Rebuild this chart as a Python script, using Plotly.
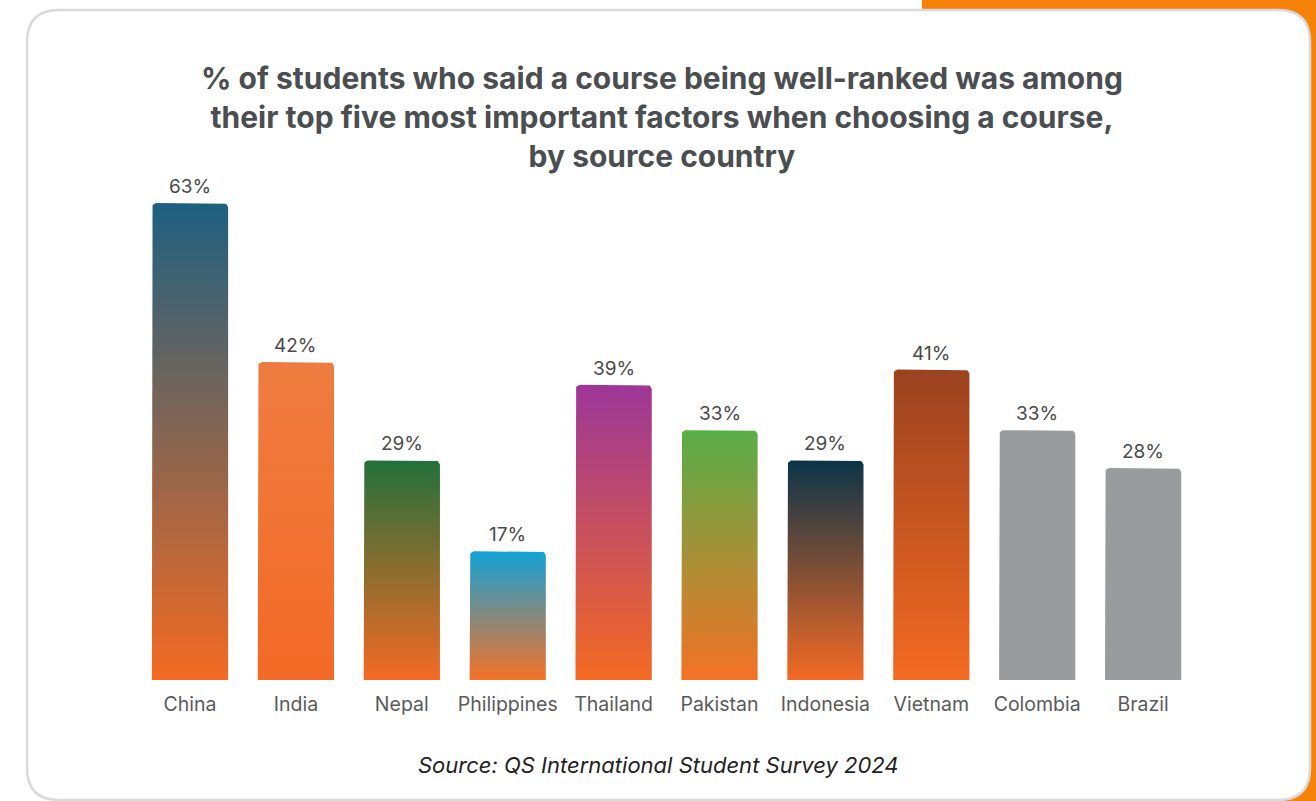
import numpy as np
import plotly.graph_objects as go

# Survey results: share of students ranking "course is well-ranked" in their top five factors
countries = ["China", "India", "Nepal", "Philippines", "Thailand",
             "Pakistan", "Indonesia", "Vietnam", "Colombia", "Brazil"]
shares = [63, 42, 29, 17, 39, 33, 29, 41, 33, 28]

# Gradient colours for each bar (top -> bottom)
top_colors = ["#1d6080", "#ee7c40", "#22703a", "#12a2d6", "#9c3698",
              "#58ae48", "#0a3448", "#9a4220", "#999b9c", "#999b9c"]
bottom_colors = ["#f46a22", "#f46a26", "#f46a24", "#f47226", "#f46a22",
                 "#f47226", "#f46a24", "#f46a22", "#999b9c", "#999b9c"]

W, H = 1316, 801
BASE_PX = 680          # pixel row of the bar baseline
PX_PER_UNIT = 7.571    # vertical pixels per percentage point
SLOT_PX = 105.9        # horizontal spacing between bar centres
FIRST_PX = 190         # pixel column of the first bar centre
Y_MAX = 65

x_left = FIRST_PX - SLOT_PX / 2
x_right = x_left + SLOT_PX * len(countries)
y_top_px = BASE_PX - Y_MAX * PX_PER_UNIT


def px_x(p):
    return p / W


def px_y(p):
    return 1 - p / H


half_w = 0.36
corner_px = 5
rx = corner_px / SLOT_PX
ry = corner_px / PX_PER_UNIT


def bar_outline(i, v):
    xs, ys = [i - half_w], [0]
    t = np.linspace(np.pi, np.pi / 2, 7)
    xs += list(i - half_w + rx + rx * np.cos(t))
    ys += list(v - ry + ry * np.sin(t))
    t = np.linspace(np.pi / 2, 0, 7)
    xs += list(i + half_w - rx + rx * np.cos(t))
    ys += list(v - ry + ry * np.sin(t))
    xs += [i + half_w, i - half_w]
    ys += [0, 0]
    return xs, ys


fig = go.Figure()

for i, (name, v) in enumerate(zip(countries, shares)):
    xs, ys = bar_outline(i, v)
    fig.add_trace(go.Scatter(
        x=xs, y=ys, mode="lines", fill="toself",
        line=dict(width=0, color="rgba(0,0,0,0)"),
        fillgradient=dict(type="vertical",
                          colorscale=[[0, bottom_colors[i]], [1, top_colors[i]]]),
        name=name, hoverinfo="skip", showlegend=False,
    ))

# Value labels above each bar
for i, v in enumerate(shares):
    fig.add_annotation(
        x=i, y=v, xref="x", yref="y", text=f"{v}%", showarrow=False,
        xanchor="center", yanchor="bottom", yshift=3,
        font=dict(family="Inter", size=19, color="#4a4a4a"),
    )

# Card frame with the orange accent behind it
card_l, card_t, card_r, card_b, rad = 27, 10, 1310, 800, 32


def card_path():
    pts = []
    pts.append(f"M {px_x(card_l + rad)},{px_y(card_t)}")
    pts.append(f"L {px_x(card_r - rad)},{px_y(card_t)}")
    pts.append(f"Q {px_x(card_r)},{px_y(card_t)} {px_x(card_r)},{px_y(card_t + rad)}")
    pts.append(f"L {px_x(card_r)},{px_y(card_b - rad)}")
    pts.append(f"Q {px_x(card_r)},{px_y(card_b)} {px_x(card_r - rad)},{px_y(card_b)}")
    pts.append(f"L {px_x(card_l + rad)},{px_y(card_b)}")
    pts.append(f"Q {px_x(card_l)},{px_y(card_b)} {px_x(card_l)},{px_y(card_b - rad)}")
    pts.append(f"L {px_x(card_l)},{px_y(card_t + rad)}")
    pts.append(f"Q {px_x(card_l)},{px_y(card_t)} {px_x(card_l + rad)},{px_y(card_t)}")
    pts.append("Z")
    return " ".join(pts)


fig.add_shape(type="rect", xref="paper", yref="paper",
              x0=px_x(922), x1=1.0, y0=0, y1=1.0,
              fillcolor="#f7820a", line=dict(width=0), layer="below")
fig.add_shape(type="path", xref="paper", yref="paper", path=card_path(),
              fillcolor="#ffffff", line=dict(color="#dadada", width=2.5),
              layer="below")

fig.add_annotation(
    xref="paper", yref="paper", x=px_x(662), y=px_y(117),
    xanchor="center", yanchor="middle", showarrow=False,
    text="<b>% of students who said a course being well-ranked was among<br>"
         "their top five most important factors when choosing a course,<br>"
         "by source country</b>",
    font=dict(family="Inter", size=30, color="#4b4e51"),
    align="center",
)

fig.add_annotation(
    xref="paper", yref="paper", x=px_x(658), y=px_y(765),
    xanchor="center", yanchor="middle", showarrow=False,
    text="<i>Source: QS International Student Survey 2024</i>",
    font=dict(family="Inter", size=22, color="#222222"),
)

fig.update_layout(
    width=W, height=H,
    margin=dict(l=0, r=0, t=0, b=0),
    paper_bgcolor="#ffffff",
    plot_bgcolor="rgba(0,0,0,0)",
    xaxis=dict(
        domain=[px_x(x_left), px_x(x_right)],
        range=[-0.5, len(countries) - 0.5],
        tickmode="array", tickvals=list(range(len(countries))), ticktext=countries,
        tickfont=dict(family="Inter", size=19.5, color="#5a5a5a"),
        ticklabelstandoff=10,
        showgrid=False, zeroline=False, showline=False, ticks="",
        fixedrange=True,
    ),
    yaxis=dict(
        domain=[px_y(BASE_PX), px_y(y_top_px)],
        range=[0, Y_MAX],
        visible=False, showgrid=False, zeroline=False, fixedrange=True,
    ),
    showlegend=False,
)

fig.write_html("out.html")
